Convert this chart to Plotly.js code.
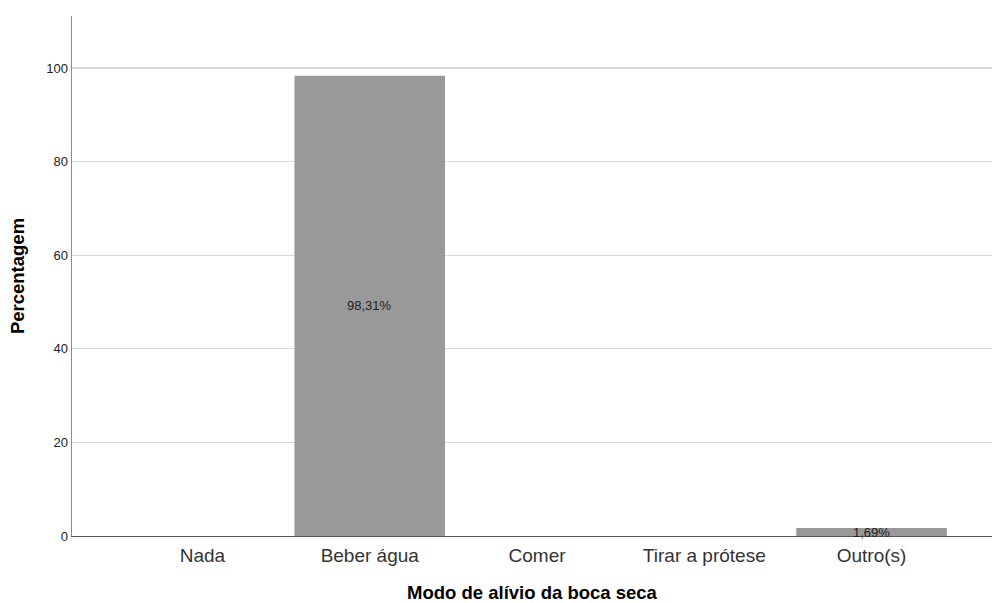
<!DOCTYPE html>
<html>
<head>
<meta charset="utf-8">
<script src="https://cdn.plot.ly/plotly-3.0.1.min.js"></script>
<style>html,body{margin:0;padding:0;background:#fff;}#chart{width:992px;height:603px;}</style>
</head>
<body>
<div id="chart"></div>
<script>
var categories = ["Nada", "Beber água", "Comer", "Tirar a prótese", "Outro(s)"];
var percentages = [0, 98.31, 0, 0, 1.69];
var labelText = ["", "98,31%", "", "", "1,69%"];
var yTicks = [0, 20, 40, 60, 80, 100];

var annotations = [];
for (var i = 0; i < categories.length; i++) {
  if (labelText[i]) {
    annotations.push({
      x: categories[i], y: percentages[i] / 2, xref: 'x', yref: 'y',
      text: labelText[i], showarrow: false,
      font: {family: 'Liberation Sans, Arial, sans-serif', size: 13, color: '#222'}
    });
  }
}

var trace = {
  type: 'bar',
  x: categories,
  y: percentages,
  width: 0.9,
  marker: {color: '#999999', line: {width: 0}},
  hoverinfo: 'none'
};

var layout = {
  width: 992, height: 603,
  margin: {l: 72, r: 0, t: 16, b: 67, pad: 0},
  paper_bgcolor: '#fff', plot_bgcolor: '#fff',
  showlegend: false,
  font: {family: 'Liberation Sans, Arial, sans-serif', color: '#222'},
  xaxis: {
    type: 'category',
    range: [-0.78, 4.72],
    showline: true, linecolor: '#555', linewidth: 1,
    showgrid: false, zeroline: false, ticks: '',
    ticklabelstandoff: 2,
    tickfont: {size: 19, color: '#333'},
    automargin: false,
    title: {text: 'Modo de alívio da boca seca', font: {size: 18.5, color: '#000', weight: 'bold'}, standoff: 22}
  },
  yaxis: {
    range: [0, 111.1],
    tickvals: yTicks,
    ticktext: yTicks.map(String),
    showline: true, linecolor: '#8c8c8c', linewidth: 1.5,
    showgrid: true, gridcolor: '#d8d8d8', gridwidth: 1.2,
    zeroline: false, ticks: '',
    tickfont: {size: 13, color: '#222'},
    automargin: false,
    title: {text: 'Percentagem', font: {size: 18.5, color: '#000', weight: 'bold'}, standoff: 16}
  },
  annotations: annotations,
  bargap: 0.1
};

Plotly.newPlot('chart', [trace], layout, {staticPlot: true, displayModeBar: false});
</script>
</body>
</html>
